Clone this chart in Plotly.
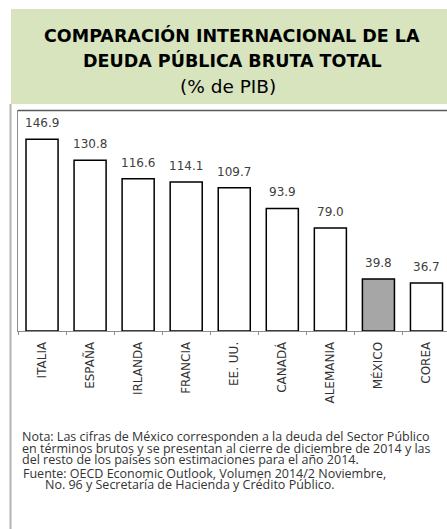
import plotly.graph_objects as go

# Datos: deuda pública bruta total (% del PIB)
paises = ["ITALIA", "ESPAÑA", "IRLANDA", "FRANCIA", "EE. UU.", "CANADÁ", "ALEMANIA", "MÉXICO", "COREA"]
deuda = [146.9, 130.8, 116.6, 114.1, 109.7, 93.9, 79.0, 39.8, 36.7]
etiquetas = ["146.9", "130.8", "116.6", "114.1", "109.7", "93.9", "79.0", "39.8", "36.7"]

titulo = ["COMPARACIÓN INTERNACIONAL DE LA", "DEUDA PÚBLICA BRUTA TOTAL"]
subtitulo = "(% de PIB)"
nota = [
    "Nota: Las cifras de México corresponden a la deuda del Sector Público",
    "en términos brutos y se presentan al cierre de diciembre de 2014 y las",
    "del resto de los países son estimaciones para el año 2014.",
]
fuente = [
    "Fuente: OECD Economic Outlook, Volumen 2014/2 Noviembre,",
    "No. 96 y Secretaría de Hacienda y Crédito Público.",
]

W, H = 447, 529
L, R, T, B = 18, 447, 110, 331  # área de trazado en píxeles
FONT = "DejaVu Sans"
FONT_NOTA = "Open Sans"
colores = ["#a6a6a6" if p == "MÉXICO" else "#ffffff" for p in paises]

fig = go.Figure()
fig.add_trace(go.Bar(
    x=paises, y=deuda, width=0.667,
    marker=dict(color=colores, line=dict(color="#000000", width=1.5)),
    hoverinfo="skip",
))

# Etiquetas de valor sobre cada barra
for p, v, t in zip(paises, deuda, etiquetas):
    fig.add_annotation(x=p, y=v, text=t, showarrow=False, yanchor="bottom",
                       yshift=7, font=dict(family=FONT, size=12, color="#404040"))

# Conversión de píxeles de la página a coordenadas "paper"
def px(x):
    return (x - L) / (R - L)

def py(y):
    return (B - y) / (B - T)

shapes = [
    # Encabezado verde
    dict(type="rect", xref="paper", yref="paper", x0=px(11), x1=px(W + 2),
         y0=py(104), y1=py(9), fillcolor="#d7e4bd", line=dict(width=0), layer="below"),
    # Línea gris a la izquierda de la página
    dict(type="line", xref="paper", yref="paper", x0=px(10.5), x1=px(10.5),
         y0=py(104), y1=py(H + 2), line=dict(color="#b4b4b4", width=2)),
    # Borde superior del área del gráfico
    dict(type="line", xref="paper", yref="paper", x0=px(18), x1=px(W + 2),
         y0=py(110.5), y1=py(110.5), line=dict(color="#595959", width=1.3)),
]

ann = []
for i, linea in enumerate(titulo):
    ann.append(dict(xref="paper", yref="paper", x=px(232), y=py(35.5 + 25 * i),
                    text=f"<b>{linea}</b>", showarrow=False, xanchor="center", yanchor="middle",
                    font=dict(family=FONT, size=17.5, color="#000000")))
ann.append(dict(xref="paper", yref="paper", x=px(228), y=py(86.5), text=subtitulo,
                showarrow=False, xanchor="center", yanchor="middle",
                font=dict(family=FONT, size=18.5, color="#000000")))
for i, linea in enumerate(nota):
    ann.append(dict(xref="paper", yref="paper", x=px(20.5), y=py(436.5 + 11.7 * i), text=linea,
                    showarrow=False, xanchor="left", yanchor="middle", borderpad=0,
                    font=dict(family=FONT_NOTA, size=12.5, color="#333333")))
ann.append(dict(xref="paper", yref="paper", x=px(21.5), y=py(473), text=fuente[0],
                showarrow=False, xanchor="left", yanchor="middle", borderpad=0,
                font=dict(family=FONT_NOTA, size=12.5, color="#333333")))
ann.append(dict(xref="paper", yref="paper", x=px(43.5), y=py(484.7), text=fuente[1],
                showarrow=False, xanchor="left", yanchor="middle", borderpad=0,
                font=dict(family=FONT_NOTA, size=12.5, color="#333333")))
for a in ann:
    fig.add_annotation(**a)

fig.update_layout(
    width=W, height=H,
    margin=dict(l=L, r=W - R, t=T, b=H - B),
    paper_bgcolor="#ffffff", plot_bgcolor="#ffffff",
    showlegend=False, bargap=0.333,
    shapes=shapes,
    xaxis=dict(
        range=[-0.5, 8.427], showline=True, linecolor="#8c8c8c", linewidth=1,
        ticks="outside", tickson="boundaries", ticklen=3, tickcolor="#8c8c8c",
        tickangle=-90, tickfont=dict(family=FONT, size=12, color="#333333"),
        showgrid=False, fixedrange=True, ticklabelstandoff=5,
    ),
    yaxis=dict(
        range=[0, 169.3], showline=True, linecolor="#8c8c8c", linewidth=1,
        showticklabels=False, ticks="", showgrid=False, zeroline=False, fixedrange=True,
    ),
)

fig.write_html("out.html")
